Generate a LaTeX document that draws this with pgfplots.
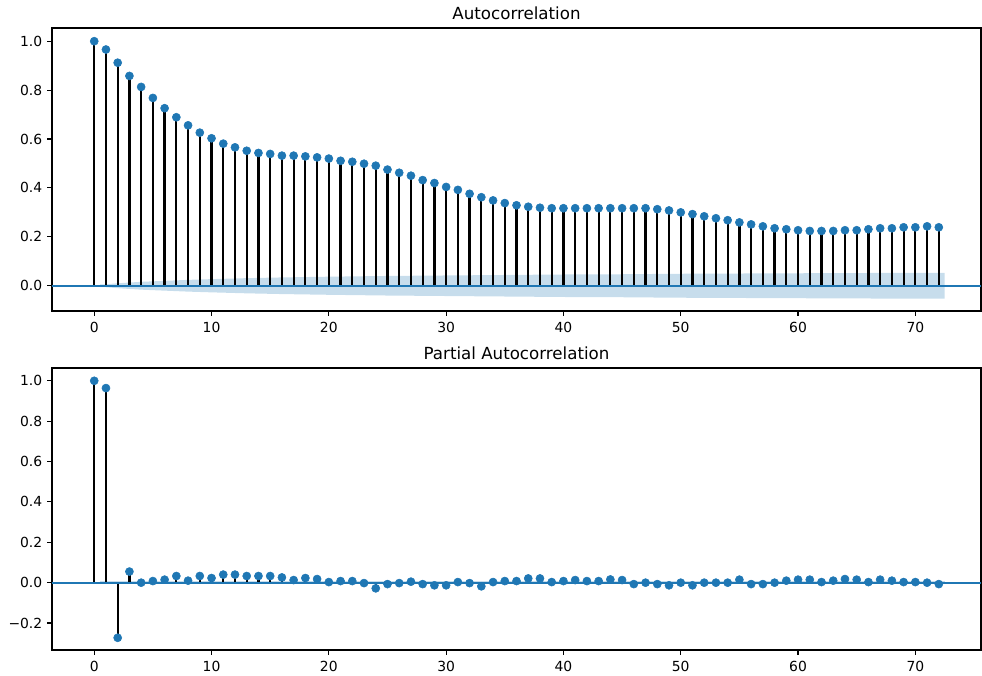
\documentclass[border=0pt]{standalone}
\usepackage{fontspec}
\setmainfont{DejaVu Sans}
\usepackage{pgfplots}
\pgfplotsset{compat=1.18}
\definecolor{c0}{HTML}{1F77B4}

% ACF
\pgfplotstableread{
lag val
0 1.000
1 0.966
2 0.912
3 0.858
4 0.813
5 0.768
6 0.726
7 0.689
8 0.656
9 0.626
10 0.603
11 0.581
12 0.566
13 0.552
14 0.543
15 0.539
16 0.532
17 0.532
18 0.529
19 0.525
20 0.520
21 0.511
22 0.507
23 0.499
24 0.491
25 0.475
26 0.462
27 0.450
28 0.432
29 0.420
30 0.404
31 0.392
32 0.376
33 0.362
34 0.349
35 0.338
36 0.329
37 0.323
38 0.319
39 0.317
40 0.317
41 0.317
42 0.317
43 0.317
44 0.317
45 0.317
46 0.317
47 0.317
48 0.313
49 0.308
50 0.300
51 0.293
52 0.284
53 0.276
54 0.268
55 0.259
56 0.251
57 0.243
58 0.235
59 0.231
60 0.227
61 0.224
62 0.224
63 0.224
64 0.227
65 0.227
66 0.231
67 0.235
68 0.235
69 0.239
70 0.239
71 0.243
72 0.239
}\acf

% PACF
\pgfplotstableread{
lag val
0 1.000
1 0.964
2 -0.273
3 0.055
4 0.000
5 0.008
6 0.015
7 0.033
8 0.010
9 0.033
10 0.023
11 0.040
12 0.040
13 0.033
14 0.033
15 0.033
16 0.026
17 0.013
18 0.023
19 0.018
20 0.003
21 0.008
22 0.008
23 -0.002
24 -0.028
25 -0.007
26 -0.002
27 0.005
28 -0.007
29 -0.013
30 -0.013
31 0.003
32 -0.002
33 -0.018
34 0.003
35 0.008
36 0.008
37 0.021
38 0.021
39 0.003
40 0.008
41 0.013
42 0.008
43 0.008
44 0.016
45 0.013
46 -0.007
47 0.000
48 -0.007
49 -0.013
50 0.000
51 -0.013
52 0.000
53 0.000
54 0.000
55 0.015
56 -0.007
57 -0.007
58 0.000
59 0.010
60 0.015
61 0.015
62 0.003
63 0.010
64 0.018
65 0.015
66 0.003
67 0.015
68 0.010
69 0.003
70 0.003
71 0.000
72 -0.007
}\pacf

\pgfplotsset{
  corrax/.style={
    scale only axis,
    width=668.9pt,
    xmin=-3.6, xmax=75.6,
    xtick={0,10,20,30,40,50,60,70},
    xticklabels={0,10,20,30,40,50,60,70},
    tick align=outside,
    xtick pos=bottom, ytick pos=left,
    major tick length=3.5pt,
    every tick/.style={black, line width=0.8pt},
    axis line style={line width=0.8pt},
    tick label style={font=\fontsize{10}{12}\selectfont},
    xticklabel style={yshift=-1pt},
    title style={font=\fontsize{12}{14}\selectfont, at={(0.5,1)}, anchor=south, yshift=0pt, inner sep=0pt},
    clip=false,
  },
}

\begin{document}
\begin{tikzpicture}
\useasboundingbox (-37.44pt,20.16pt) rectangle (669.6pt,-466.56pt);

\begin{axis}[corrax,
  at={(0pt,0pt)}, anchor=north west,
  height=203.8pt,
  ymin=-0.1035, ymax=1.054,
  ytick={0,0.2,0.4,0.6,0.8,1.0},
  yticklabels={0.0,0.2,0.4,0.6,0.8,1.0},
  title={Autocorrelation},
]
\addplot[fill=c0, fill opacity=0.25, draw=none] coordinates {
  (0.5,0.006) (1,0.006) (2,0.010) (3,0.013) (4,0.016) (5,0.018) (6,0.020)
  (8,0.024) (10,0.027) (13,0.031) (16,0.034) (20,0.037) (25,0.040)
  (30,0.042) (35,0.044) (40,0.046) (45,0.047) (50,0.049) (55,0.050)
  (60,0.051) (65,0.052) (72.5,0.053)
  (72.5,-0.053) (65,-0.052) (60,-0.051) (55,-0.050) (50,-0.049)
  (45,-0.047) (40,-0.046) (35,-0.044) (30,-0.042) (25,-0.040)
  (20,-0.037) (16,-0.034) (13,-0.031) (10,-0.027) (8,-0.024)
  (6,-0.020) (5,-0.018) (4,-0.016) (3,-0.013) (2,-0.010) (1,-0.006)
  (0.5,-0.006)
} -- cycle;
\addplot[ycomb, black, line width=1.6pt, no marks] table[x=lag, y=val] {\acf};
\addplot[c0, line width=1.5pt, no marks] coordinates {(-3.6,0) (75.6,0)};
\addplot[only marks, mark=*, mark size=2.9pt, c0, mark options={draw=c0, fill=c0}] table[x=lag, y=val] {\acf};
\end{axis}

\begin{axis}[corrax,
  at={(0pt,-244.8pt)}, anchor=north west,
  height=203.04pt,
  ymin=-0.3335, ymax=1.0635,
  ytick={-0.2,0,0.2,0.4,0.6,0.8,1.0},
  yticklabels={−0.2,0.0,0.2,0.4,0.6,0.8,1.0},
  title={Partial Autocorrelation},
]
\addplot[fill=c0, fill opacity=0.25, draw=none] coordinates {
  (0.5,0.006) (72.5,0.006) (72.5,-0.006) (0.5,-0.006)
} -- cycle;
\addplot[ycomb, black, line width=1.6pt, no marks] table[x=lag, y=val] {\pacf};
\addplot[c0, line width=1.5pt, no marks] coordinates {(-3.6,0) (75.6,0)};
\addplot[only marks, mark=*, mark size=2.9pt, c0, mark options={draw=c0, fill=c0}] table[x=lag, y=val] {\pacf};
\end{axis}
\end{tikzpicture}
\end{document}
